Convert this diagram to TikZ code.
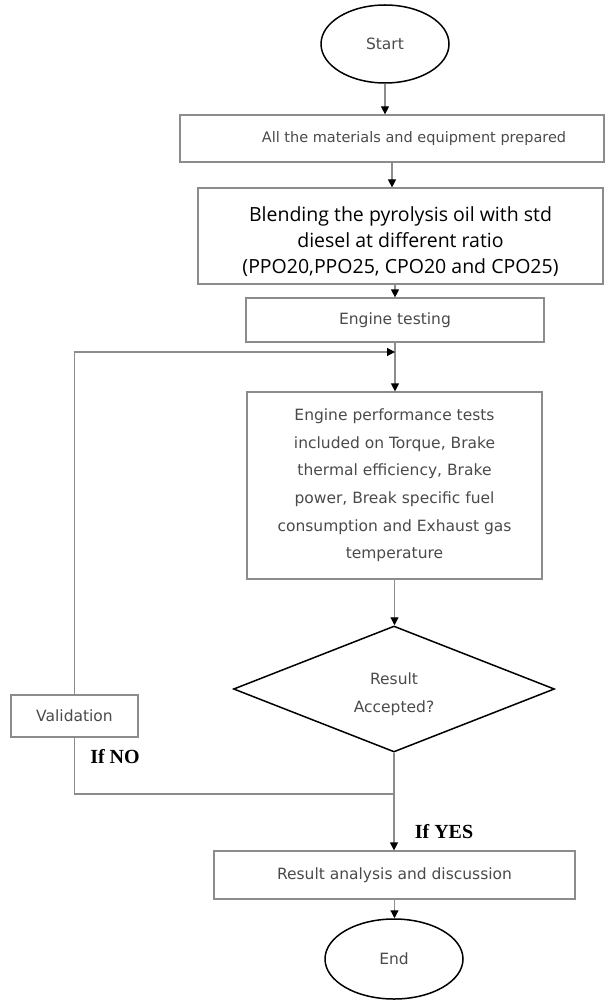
\documentclass[tikz,border=0pt]{standalone}
\usepackage{fontspec}
\setmainfont{DejaVu Sans}
\newfontfamily\blendfont{Open Sans}
\newfontfamily\notefont{Liberation Serif}
\usepackage{tikz}
\usetikzlibrary{shapes.geometric,arrows.meta}
\definecolor{boxgray}{HTML}{8C8C8C}
\definecolor{txtgray}{HTML}{4A4A4A}

\begin{document}
\begin{tikzpicture}[x=1pt,y=-1pt,
	box/.style={draw=boxgray,line width=1.2pt,rectangle,inner sep=0pt,align=center,text=txtgray,font=\fontsize{15.5}{27.6}\selectfont},
	term/.style={draw,line width=1.5pt,ellipse,inner sep=0pt,text=txtgray,font=\fontsize{15.5}{20}\selectfont},
	decision/.style={draw,line width=1.5pt,diamond,aspect=2.55,inner sep=0pt,align=center,text=txtgray,font=\fontsize{15.5}{28}\selectfont},
	link/.style={draw=boxgray,line width=1.2pt},
	arr/.style={link,-{Triangle[length=8pt,width=8pt,color=black]}},
	note/.style={font=\notefont\fontsize{20}{24}\selectfont\bfseries}]
	\useasboundingbox (0,0) rectangle (613,1000);
	\node[term,minimum width=128pt,minimum height=78pt] (start) at (385,44) {Start};
	\node[box,minimum width=424pt,minimum height=47pt,font=\fontsize{14.5}{20}\selectfont] (prep) at (392,138.5) {\hspace*{44pt}All the materials and equipment prepared};
	\node[box,minimum width=405pt,minimum height=96pt,text=black,font=\blendfont\fontsize{19.5}{26}\selectfont] (blend) at (400.5,236) {\rule{0pt}{26pt}Blending the pyrolysis oil with std\\diesel at different ratio\\(PPO20,PPO25, CPO20 and CPO25)};
	\node[box,minimum width=298pt,minimum height=44pt] (engine) at (395,320) {Engine testing};
	\node[box,minimum width=295pt,minimum height=187pt] (perf) at (394.5,485.5)
		{Engine performance tests\\included on Torque, Brake\\thermal efficiency, Brake\\power, Break specific fuel\\consumption and Exhaust gas\\temperature};
	\node[decision,minimum width=321pt,minimum height=126pt] (check) at (394,689) {\rule{0pt}{22pt}Result\\Accepted?};
	\node[box,minimum width=127pt,minimum height=42pt] (valid) at (74.5,716) {Validation};
	\node[box,minimum width=361pt,minimum height=48pt] (analysis) at (394.5,875) {Result analysis and discussion};
	\node[term,minimum width=138pt,minimum height=80pt] (finish) at (394,959) {End};
	\coordinate (join) at (check.south |- 0,794);
	\coordinate (back) at (engine.south |- 0,352);
	\draw[arr] (start.south) -- (start.south |- prep.north);
	\draw[arr] (prep.south) -- (prep.south |- blend.north);
	\draw[arr] (engine.north |- blend.south) -- (engine.north);
	\draw[arr] (engine.south) -- (engine.south |- perf.north);
	\draw[arr] (valid.north) |- (back);
	\draw[arr] (perf.south) -- (perf.south |- check.north);
	\draw[link] (check.south) -- (join) -| (valid.south);
	\draw[arr] (join) -- (join |- analysis.north);
	\draw[arr] (analysis.south) -- (analysis.south |- finish.north);
	\node[note] (no) at (115,757) {If NO};
	\node[note] (yes) at (444,832) {If YES};
\end{tikzpicture}
\end{document}
